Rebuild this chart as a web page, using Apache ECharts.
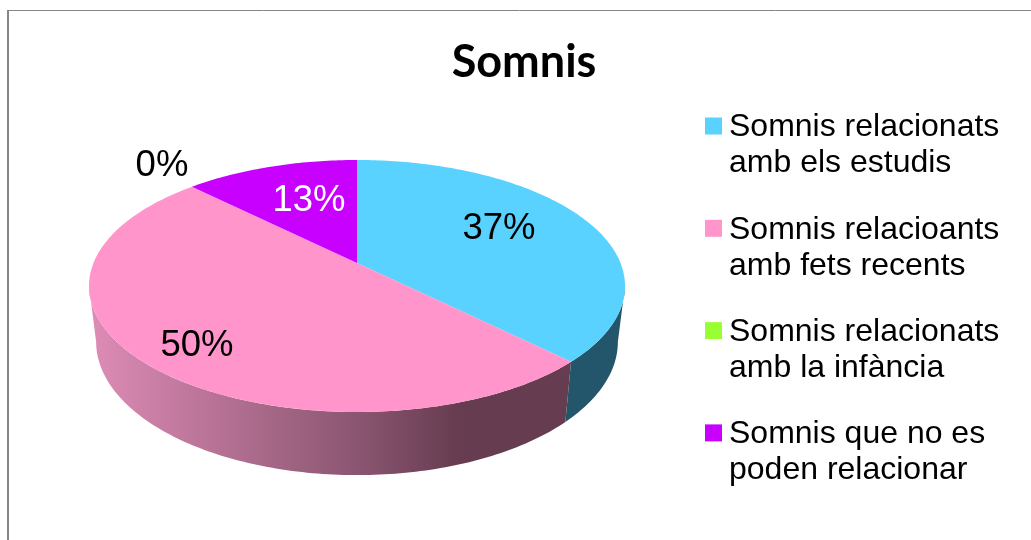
<!DOCTYPE html>
<html>
<head>
<meta charset="utf-8">
<style>
  html, body { margin: 0; padding: 0; background: #fff; }
  #main { width: 1031px; height: 540px; }
</style>
<script src="https://cdn.jsdelivr.net/npm/echarts@6/dist/echarts.min.js"></script>
</head>
<body>
<div id="main"></div>
<script>
var categories = [
  'Somnis relacionats\namb els estudis',
  'Somnis relacioants\namb fets recents',
  'Somnis relacionats\namb la infància',
  'Somnis que no es\npoden relacionar'
];
var values = [37.49, 50, 0, 12.51];

var colors = ['#59D2FF', '#FF95CA', '#99FF33', '#C800FF'];
var labelColors = ['#000', '#000', '#000', '#fff'];
var labelPos = [[499, 229], [197, 346], [162, 166], [309, 201]];

var total = values.reduce(function (a, b) { return a + b; }, 0);
var p = 0.1825;
var cx = 357;
// front part of the rim, where the side wall can be seen
var frontStart = Math.acos(-p);
var frontEnd = Math.PI * 2 - frontStart;

// perspective projection of the disc, top plane and bottom plane
function topPoint(t) {
  var d = 1 + p * Math.cos(t);
  return [cx + 263.5 * Math.sin(t) / d, 263 - 121.8 * Math.cos(t) / d];
}
function bottomPoint(t) {
  var d = 1 + p * Math.cos(t);
  return [cx + 256.5 * Math.sin(t) / d, 317.3 - 129 * Math.cos(t) / d];
}
function arc(fn, a, b) {
  var pts = [];
  var n = Math.max(2, Math.ceil(Math.abs(b - a) * 60));
  for (var i = 0; i <= n; i++) pts.push(fn(a + (b - a) * i / n));
  return pts;
}

function wallColor(idx) {
  if (idx === 1) {
    return new echarts.graphic.LinearGradient(89, 0, 570, 0, [
      { offset: 0, color: '#DE8CB6' },
      { offset: 0.563, color: '#8A5570' },
      { offset: 0.77, color: '#663C50' },
      { offset: 1, color: '#663C50' }
    ], true);
  }
  if (idx === 0) return '#23566A';
  return echarts.color.lift(colors[idx], -0.6);
}

function renderSlice(idx) {
  return function (params, api) {
    var v = api.value(0);
    var before = 0;
    for (var i = 0; i < idx; i++) before += values[i];
    var a = before / total * Math.PI * 2;
    var b = (before + v) / total * Math.PI * 2;
    var children = [];
    if (v > 0) {
      var wa = Math.max(a, frontStart);
      var wb = Math.min(b, frontEnd);
      if (wb > wa) {
        children.push({
          type: 'polygon',
          z2: 1,
          shape: { points: arc(topPoint, wa, wb).concat(arc(bottomPoint, wa, wb).reverse()) },
          style: { fill: wallColor(idx) }
        });
      }
      children.push({
        type: 'polygon',
        z2: 5,
        shape: { points: [[cx, 263]].concat(arc(topPoint, a, b)) },
        style: { fill: colors[idx] }
      });
    }
    children.push({
      type: 'text',
      z2: 10,
      x: labelPos[idx][0],
      y: labelPos[idx][1],
      style: {
        text: Math.round(v / total * 100) + '%',
        fill: labelColors[idx],
        font: '36.5px "Liberation Sans"',
        align: 'center',
        verticalAlign: 'middle'
      }
    });
    return { type: 'group', children: children };
  };
}

var chart = echarts.init(document.getElementById('main'));

var option = {
  animation: false,
  backgroundColor: '#fff',
  title: {
    text: 'Somnis',
    left: 519,
    top: 35,
    textAlign: 'center',
    textStyle: { fontFamily: 'Lato', fontWeight: 'bold', fontSize: 45, color: '#000' }
  },
  legend: {
    orient: 'vertical',
    left: 705,
    top: 111.5,
    padding: 0,
    icon: 'rect',
    itemWidth: 17,
    itemHeight: 17,
    itemGap: 34.3,
    data: categories,
    selectedMode: false,
    // top padding keeps the marker level with the first text line
    formatter: function (name) {
      return name.split('\n').map(function (s) { return '{t|' + s + '}'; }).join('\n');
    },
    textStyle: {
      padding: [39, 0, 0, 2],
      rich: {
        t: { fontFamily: 'Liberation Sans', fontSize: 32, lineHeight: 36, color: '#000' }
      }
    }
  },
  graphic: [
    { type: 'line', shape: { x1: 8, y1: 10, x2: 8, y2: 540 }, style: { stroke: '#868686', lineWidth: 2 } },
    { type: 'line', shape: { x1: 8, y1: 10.5, x2: 1031, y2: 10.5 }, style: { stroke: '#868686', lineWidth: 1 } }
  ],
  series: categories.map(function (name, i) {
    return {
      type: 'custom',
      name: name,
      coordinateSystem: 'none',
      silent: true,
      itemStyle: { color: colors[i] },
      renderItem: renderSlice(i),
      data: [[values[i]]]
    };
  })
};

chart.setOption(option);
</script>
</body>
</html>
